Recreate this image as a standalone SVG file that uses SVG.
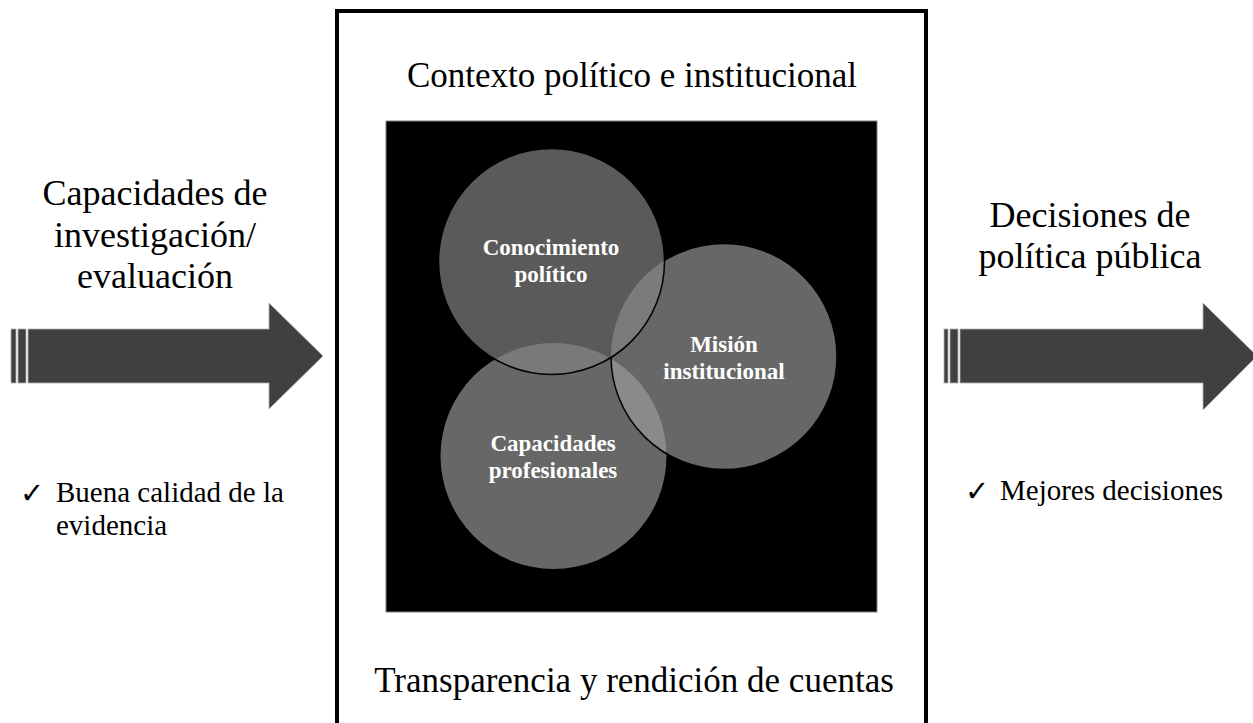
<svg xmlns="http://www.w3.org/2000/svg" width="1253" height="723" viewBox="0 0 1253 723">
<style>
.big{font-family:"Liberation Serif","Times New Roman",serif;font-size:35px;fill:#000}
.side{font-family:"Liberation Serif","Times New Roman",serif;font-size:36px;fill:#000;text-anchor:middle}
.mid{font-family:"Liberation Serif","Times New Roman",serif;font-size:29px;fill:#000}
.chk{font-family:"DejaVu Sans",sans-serif;font-size:29px;fill:#000}
.lbl{font-family:"Liberation Serif","Times New Roman",serif;font-size:23px;font-weight:bold;fill:#fff;text-anchor:middle}
.arrow{fill:#404040;stroke:#b0b0b0;stroke-width:0.8}
</style>
<defs>
<clipPath id="cTop"><circle cx="551.5" cy="261.5" r="113"/></clipPath>
<clipPath id="cRight"><circle cx="724" cy="356.5" r="113"/></clipPath>
<clipPath id="cBot"><circle cx="553.5" cy="456" r="113"/></clipPath>
<mask id="mNotTop"><rect x="0" y="0" width="1253" height="723" fill="#fff"/><circle cx="551.5" cy="261.5" r="113" fill="#000"/></mask>
</defs>
<rect width="1253" height="723" fill="#fff"/>

<g id="left-arrow">
<rect class="arrow" x="11" y="329" width="5" height="54"/>
<rect class="arrow" x="18" y="329" width="8" height="54"/>
<polygon class="arrow" points="28,329 269,329 269,303 323,356 269,409 269,383 28,383"/>
</g>
<g id="right-arrow">
<rect class="arrow" x="944" y="329" width="4" height="54"/>
<rect class="arrow" x="950" y="329" width="8" height="54"/>
<polygon class="arrow" points="960,329 1203,329 1203,303 1257,356 1203,410 1203,383 960,383"/>
</g>

<g id="left-text">
<text class="side" x="155" y="205">Capacidades de</text>
<text class="side" x="155" y="247">investigación/</text>
<text class="side" x="155" y="288">evaluación</text>
<text class="chk" x="20" y="503">✓</text>
<text class="mid" x="56" y="502">Buena calidad de la</text>
<text class="mid" x="56" y="535">evidencia</text>
</g>
<g id="right-text">
<text class="side" x="1090" y="227">Decisiones de</text>
<text class="side" x="1090" y="268">política pública</text>
<text class="chk" x="965" y="501">✓</text>
<text class="mid" x="1000" y="500">Mejores decisiones</text>
</g>

<g id="context-box">
<rect x="337" y="11" width="589" height="720" fill="#fff" stroke="#000" stroke-width="4"/>
<text class="big" text-anchor="middle" x="632" y="87">Contexto político e institucional</text>
<text class="big" text-anchor="middle" x="634" y="692">Transparencia y rendición de cuentas</text>
<rect x="386" y="121" width="491" height="491" fill="#000" stroke="#808080" stroke-width="1"/>
</g>

<g id="venn">
<circle cx="553.5" cy="456" r="113" fill="#676767"/>
<circle cx="724" cy="356.5" r="113" fill="#676767"/>
<circle cx="551.5" cy="261.5" r="113" fill="#5a5a5a"/>
<circle cx="551.5" cy="261.5" r="113" fill="#797979" clip-path="url(#cBot)"/>
<circle cx="551.5" cy="261.5" r="113" fill="#7b7b7b" clip-path="url(#cRight)"/>
<circle cx="724" cy="356.5" r="113" fill="#8a8a8a" clip-path="url(#cBot)"/>
<circle cx="724" cy="356.5" r="113" fill="none" stroke="#000" stroke-width="1.5" mask="url(#mNotTop)"/>
<circle cx="551.5" cy="261.5" r="113" fill="none" stroke="#000" stroke-width="1.5"/>
</g>

<g id="node-conocimiento">
<text class="lbl" x="551" y="255">Conocimiento</text>
<text class="lbl" x="551" y="282">político</text>
</g>
<g id="node-mision">
<text class="lbl" x="724" y="352">Misión</text>
<text class="lbl" x="724" y="379">institucional</text>
</g>
<g id="node-capacidades">
<text class="lbl" x="553" y="451">Capacidades</text>
<text class="lbl" x="553" y="478">profesionales</text>
</g>
<g id="connectors"></g>
</svg>
